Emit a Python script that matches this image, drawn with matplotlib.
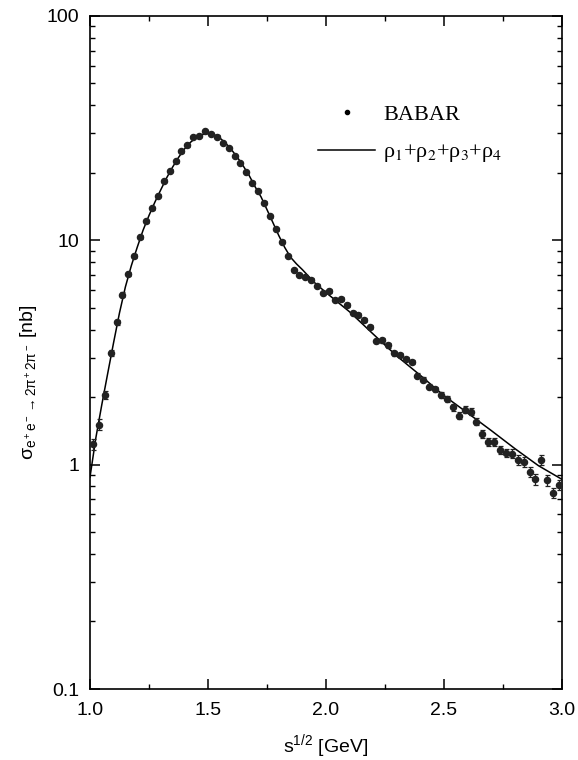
import numpy as np
import matplotlib
matplotlib.use('Agg')
import matplotlib.pyplot as plt
from matplotlib.lines import Line2D
from matplotlib.ticker import LogLocator, MultipleLocator, NullFormatter

plt.rcParams['font.family'] = ['Liberation Sans', 'DejaVu Sans']
plt.rcParams['mathtext.fontset'] = 'custom'
plt.rcParams['mathtext.rm'] = 'Liberation Sans'
plt.rcParams['mathtext.it'] = 'Liberation Sans:italic'

# BABAR data points (bin centres, 25 MeV bins)
sqrt_s = [1.0125 + 0.025 * i for i in range(80)]
sigma = [1.23, 1.51, 2.05, 3.15, 4.31, 5.73, 7.08, 8.48, 10.35, 12.15,
         13.9, 15.8, 18.4, 20.4, 22.5, 24.9, 26.5, 28.9, 29.2, 30.8,
         29.8, 29.0, 27.2, 25.8, 23.8, 22.0, 20.1, 18.1, 16.6, 14.7,
         12.8, 11.2, 9.84, 8.48, 7.35, 7.01, 6.87, 6.66, 6.28, 5.83,
         5.95, 5.44, 5.48, 5.13, 4.75, 4.65, 4.43, 4.12, 3.57, 3.58,
         3.40, 3.13, 3.08, 2.96, 2.87, 2.49, 2.39, 2.23, 2.17, 2.05,
         1.96, 1.80, 1.65, 1.76, 1.72, 1.555, 1.37, 1.26, 1.26, 1.16,
         1.13, 1.12, 1.05, 1.03, 0.93, 0.86, 1.05, 0.85, 0.75, 0.81]
sigma_err = [0.07, 0.08, 0.09, 0.10, 0.12, 0.14, 0.15, 0.17, 0.20, 0.22,
             0.24, 0.26, 0.28, 0.30, 0.32, 0.34, 0.35, 0.37, 0.37, 0.38,
             0.37, 0.36, 0.34, 0.32, 0.30, 0.28, 0.26, 0.24, 0.22, 0.20,
             0.18, 0.16, 0.15, 0.14, 0.13, 0.12, 0.12, 0.12, 0.11, 0.11,
             0.11, 0.10, 0.10, 0.10, 0.10, 0.10, 0.09, 0.09, 0.08, 0.08,
             0.08, 0.07, 0.07, 0.07, 0.07, 0.06, 0.06, 0.06, 0.06, 0.06,
             0.06, 0.06, 0.06, 0.06, 0.06, 0.055, 0.05, 0.05, 0.05, 0.05,
             0.05, 0.05, 0.05, 0.05, 0.045, 0.045, 0.05, 0.045, 0.04, 0.04]

# fit curve rho1+rho2+rho3+rho4
fit_x = [1.000, 1.025, 1.050, 1.075, 1.100, 1.125, 1.150, 1.175, 1.200, 1.225,
         1.250, 1.275, 1.300, 1.325, 1.350, 1.375, 1.400, 1.425, 1.450, 1.475,
         1.500, 1.525, 1.550, 1.575, 1.600, 1.625, 1.650, 1.675, 1.700, 1.725,
         1.750, 1.775, 1.800, 1.825, 1.850, 1.875, 1.900, 1.950, 2.000, 2.100,
         2.200, 2.300, 2.400, 2.500, 2.600, 2.700, 2.800, 2.900, 3.000]
fit_y = [0.88, 1.32, 1.85, 2.55, 3.50, 4.75, 6.2, 7.7, 9.3, 11.1,
         12.9, 14.8, 16.8, 19.0, 21.2, 23.4, 25.5, 27.3, 28.7, 29.6,
         29.9, 29.6, 28.6, 27.1, 25.3, 23.4, 21.4, 19.4, 17.3, 15.6,
         13.7, 12.0, 10.5, 9.3, 8.4, 7.85, 7.4, 6.5, 5.85, 4.8,
         3.82, 3.05, 2.5, 2.03, 1.70, 1.42, 1.18, 0.99, 0.86]

fig = plt.figure(figsize=(5.78, 7.6), dpi=100)
ax = fig.add_axes([0.1557, 0.0934, 0.8166, 0.8856])

ax.errorbar(sqrt_s, sigma, yerr=sigma_err, fmt='o', color='#222222', ms=4.4,
            elinewidth=0.9, capsize=1.8, capthick=0.9, zorder=3)
ax.plot(fit_x, fit_y, color='black', lw=1.1, zorder=2)

ax.set_yscale('log')
ax.set_xlim(1.0, 3.0)
ax.set_ylim(0.1, 100)

ax.set_xticks([1.0, 1.5, 2.0, 2.5, 3.0], labels=['1.0', '1.5', '2.0', '2.5', '3.0'])
ax.xaxis.set_minor_locator(MultipleLocator(0.25))
ax.set_yticks([0.1, 1, 10, 100], labels=['0.1', '1', '10', '100'])
ax.yaxis.set_minor_locator(LogLocator(base=10, subs=np.arange(2, 10)))
ax.yaxis.set_minor_formatter(NullFormatter())

ax.tick_params(which='both', direction='in', top=True, right=True, labelsize=14)
ax.tick_params(which='major', length=7, width=1.1)
ax.tick_params(which='minor', length=3.5, width=1.0)
ax.tick_params(axis='x', pad=9)
ax.tick_params(axis='y', pad=8)
for sp in ax.spines.values():
    sp.set_linewidth(1.2)

ax.set_xlabel('s$^{1/2}$ [GeV]', fontsize=14, labelpad=10)
ax.set_ylabel(r'σ$_{\mathrm{e^+e^-}\rightarrow\mathrm{2π^+2π^-}}$ [nb]', fontsize=14)
ax.yaxis.set_label_coords(-0.108, 0.456)

handles = [Line2D([], [], marker='o', ls='none', ms=3, color='black'),
           Line2D([], [], color='black', lw=1.1)]
labels = ['BABAR', 'ρ$_1$+ρ$_2$+ρ$_3$+ρ$_4$']
ax.legend(handles, labels, loc='upper left', bbox_to_anchor=(0.44, 0.898),
          frameon=False, handlelength=2.6, handletextpad=0.35, labelspacing=0.75,
          prop={'family': 'Liberation Serif', 'size': 16, 'math_fontfamily': 'stix'})

fig.savefig('out.png', dpi=100)
